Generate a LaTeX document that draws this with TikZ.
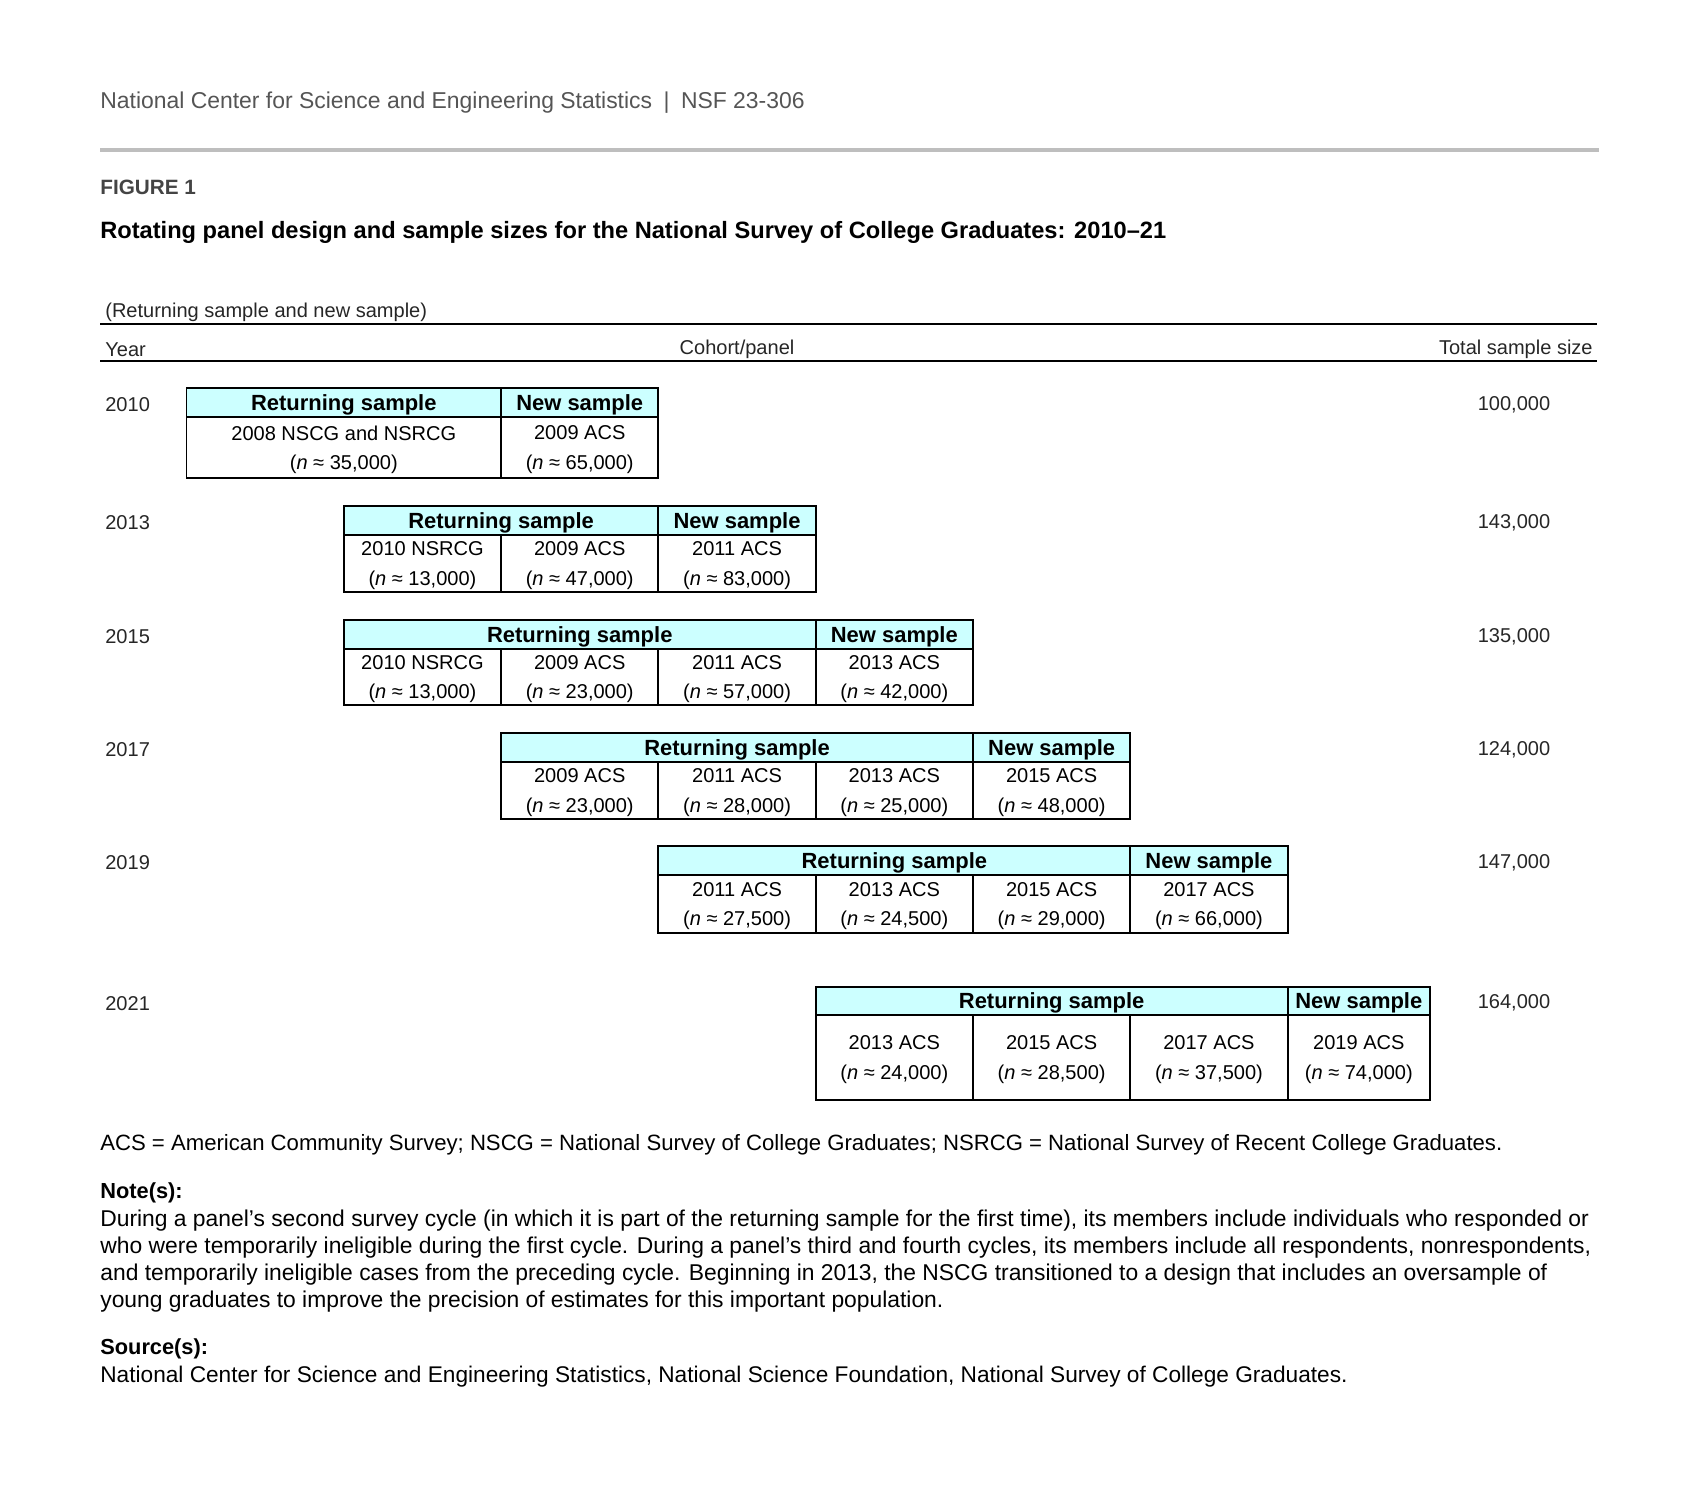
\documentclass[tikz,border=0pt]{standalone}
\usepackage{fontspec}
\setmainfont{Liberation Sans}
\newfontfamily\robo{Liberation Sans}
\usetikzlibrary{positioning}

\definecolor{hdrcyan}{RGB}{204,255,255}
\definecolor{rulegray}{RGB}{190,190,190}
\definecolor{inkgray}{RGB}{85,85,85}
\definecolor{figgray}{RGB}{68,68,68}

\tikzset{
  txt/.style={inner sep=0pt, yshift=-0.045cm},
  hdr/.style={fill=hdrcyan, draw=black, line width=1.1pt},
  cellbox/.style={draw=black, line width=1.1pt},
  hdrtxt/.style={txt, font=\fontsize{12.5}{14}\selectfont\bfseries},
  celltxt/.style={txt, font=\fontsize{11.4}{16.8}\selectfont, align=center},
  sidetxt/.style={txt, font=\fontsize{11.4}{13}\selectfont, text=black!85},
  foot/.style={txt, font=\robo\fontsize{13}{15.4}\selectfont, anchor=west, align=left},
}

\newcommand{\nn}[1]{(\textit{n} ≈ #1)}
% header cell: name, x1, x2, top, bottom, text
\newcommand{\panelhead}[6]{%
  \draw[hdr] (#2,#4) rectangle (#3,#5);
  \node[hdrtxt] (#1) at ({(#2+#3)/2},{(#4+#5)/2}) {#6};}
% data cell: name, x1, x2, top, bottom, survey, n
\newcommand{\panelcell}[7]{%
  \draw[cellbox] (#2,#4) rectangle (#3,#5);
  \node[celltxt] (#1) at ({(#2+#3)/2},{(#4+#5)/2}) {#6\\\nn{#7}};}

\begin{document}
\begin{tikzpicture}[x=0.02cm, y=-0.02cm]
	\useasboundingbox (0,0) rectangle (1699,1496);

	% page head
	\node[txt, anchor=west, text=inkgray, font=\robo\fontsize{13.05}{15}\selectfont] (pagehead) at (100,100)
		{National Center for Science and Engineering Statistics\enspace|\enspace NSF 23-306};
	\draw[rulegray, line width=2.4pt] (100,150) -- (1599,150);
	\node[txt, anchor=west, text=figgray, font=\robo\fontsize{11.8}{14}\selectfont\bfseries] (fignum) at (100,185) {FIGURE 1};
	\node[txt, anchor=west, font=\robo\fontsize{13.45}{15}\selectfont\bfseries] (figtitle) at (100,230)
		{Rotating panel design and sample sizes for the National Survey of College Graduates: 2010–21};

	% column heads
	\node[sidetxt, anchor=west] (subhead) at (105,310) {(Returning sample and new sample)};
	\draw[line width=1.1pt] (100,324) -- (1597,324);
	\node[sidetxt, anchor=west] (yearhead) at (105,347) {Year};
	\node[sidetxt] (cohorthead) at (737,347) {Cohort/panel};
	\node[sidetxt, anchor=east] (totalhead) at (1593,347) {Total sample size};
	\draw[line width=1.1pt] (100,361) -- (1597,361);

	% years and totals
	\foreach \yy/\yr/\tot in {402.5/2010/{100,000}, 520.5/2013/{143,000}, 634.5/2015/{135,000},
		747.5/2017/{124,000}, 860.5/2019/{147,000}, 1001/2021/{164,000}}{
		\node[sidetxt, anchor=west] (yr\yr) at (105,\yy) {\yr};
		\node[sidetxt] (tot\yr) at (1514,\yy) {\tot};
	}

	% 2010
	\panelhead{h10r}{186.5}{501.1}{388}{417}{Returning sample}
	\panelhead{h10n}{501.1}{658.4}{388}{417}{New sample}
	\panelcell{c10a}{186.5}{501.1}{417}{478}{2008 NSCG and NSRCG}{35,000}
	\panelcell{c10b}{501.1}{658.4}{417}{478}{2009 ACS}{65,000}

	% 2013
	\panelhead{h13r}{343.8}{658.4}{506}{535}{Returning sample}
	\panelhead{h13n}{658.4}{815.7}{506}{535}{New sample}
	\panelcell{c13a}{343.8}{501.1}{535}{592}{2010 NSRCG}{13,000}
	\panelcell{c13b}{501.1}{658.4}{535}{592}{2009 ACS}{47,000}
	\panelcell{c13c}{658.4}{815.7}{535}{592}{2011 ACS}{83,000}

	% 2015
	\panelhead{h15r}{343.8}{815.7}{620}{649}{Returning sample}
	\panelhead{h15n}{815.7}{973}{620}{649}{New sample}
	\panelcell{c15a}{343.8}{501.1}{649}{705}{2010 NSRCG}{13,000}
	\panelcell{c15b}{501.1}{658.4}{649}{705}{2009 ACS}{23,000}
	\panelcell{c15c}{658.4}{815.7}{649}{705}{2011 ACS}{57,000}
	\panelcell{c15d}{815.7}{973}{649}{705}{2013 ACS}{42,000}

	% 2017
	\panelhead{h17r}{501.1}{973}{733}{762}{Returning sample}
	\panelhead{h17n}{973}{1130.3}{733}{762}{New sample}
	\panelcell{c17a}{501.1}{658.4}{762}{819}{2009 ACS}{23,000}
	\panelcell{c17b}{658.4}{815.7}{762}{819}{2011 ACS}{28,000}
	\panelcell{c17c}{815.7}{973}{762}{819}{2013 ACS}{25,000}
	\panelcell{c17d}{973}{1130.3}{762}{819}{2015 ACS}{48,000}

	% 2019
	\panelhead{h19r}{658.4}{1130.3}{846}{875}{Returning sample}
	\panelhead{h19n}{1130.3}{1287.6}{846}{875}{New sample}
	\panelcell{c19a}{658.4}{815.7}{875}{933}{2011 ACS}{27,500}
	\panelcell{c19b}{815.7}{973}{875}{933}{2013 ACS}{24,500}
	\panelcell{c19c}{973}{1130.3}{875}{933}{2015 ACS}{29,000}
	\panelcell{c19d}{1130.3}{1287.6}{875}{933}{2017 ACS}{66,000}

	% 2021
	\panelhead{h21r}{815.7}{1287.6}{987}{1015}{Returning sample}
	\panelhead{h21n}{1287.6}{1430}{987}{1015}{New sample}
	\panelcell{c21a}{815.7}{973}{1015}{1100}{2013 ACS}{24,000}
	\panelcell{c21b}{973}{1130.3}{1015}{1100}{2015 ACS}{28,500}
	\panelcell{c21c}{1130.3}{1287.6}{1015}{1100}{2017 ACS}{37,500}
	\panelcell{c21d}{1287.6}{1430}{1015}{1100}{2019 ACS}{74,000}

	% notes
	\node[foot, font=\robo\fontsize{12.6}{15.4}\selectfont] (abbrev) at (100,1143) {ACS = American Community Survey; NSCG = National Survey of College Graduates; NSRCG = National Survey of Recent College Graduates.};
	\node[foot, font=\robo\fontsize{12.4}{15.4}\selectfont\bfseries] (notehead) at (100,1191) {Note(s):};
	\node[foot, anchor=north west] (notebody) at (100,1207) {During a panel’s second survey cycle (in which it is part of the returning sample for the first time), its members include individuals who responded or\\
		who were temporarily ineligible during the first cycle. During a panel’s third and fourth cycles, its members include all respondents, nonrespondents,\\
		and temporarily ineligible cases from the preceding cycle. Beginning in 2013, the NSCG transitioned to a design that includes an oversample of\\
		young graduates to improve the precision of estimates for this important population.};
	\node[foot, font=\robo\fontsize{12.4}{15.4}\selectfont\bfseries] (sourcehead) at (100,1347) {Source(s):};
	\node[foot, font=\robo\fontsize{12.9}{15.4}\selectfont] (sourcebody) at (100,1374) {National Center for Science and Engineering Statistics, National Science Foundation, National Survey of College Graduates.};
\end{tikzpicture}
\end{document}
